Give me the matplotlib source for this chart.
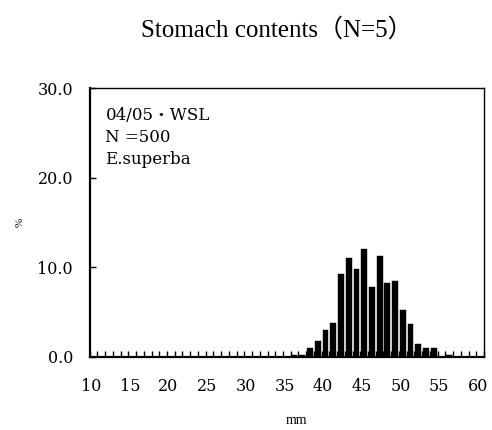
import matplotlib
matplotlib.use("Agg")
import matplotlib.pyplot as plt
import numpy as np

# Data
lengths_mm = list(range(10, 61))
values = {36: 0.2, 37: 0.2, 38: 1.0, 39: 1.8, 40: 3.0, 41: 3.8, 42: 9.2, 43: 11.0,
          44: 9.8, 45: 12.0, 46: 7.8, 47: 11.2, 48: 8.2, 49: 8.4, 50: 5.2, 51: 3.6,
          52: 1.4, 53: 1.0, 54: 1.0, 55: 0.0, 56: 0.2}
percent = [values.get(m, 0.0) for m in lengths_mm]
xtick_labels = [str(m) for m in range(10, 61, 5)]
ytick_values = [0, 10, 20, 30]
ytick_labels = ["0.0", "10.0", "20.0", "30.0"]
title = "Stomach contents（N=5）"
note_lines = ["04/05・WSL", "N =500", "E.superba"]

serif = ["Liberation Serif", "Noto Sans CJK JP", "DejaVu Serif"]
wide = ["DejaVu Serif", "Noto Sans CJK JP"]
plt.rcParams['font.family'] = serif

fig = plt.figure(figsize=(4.92, 4.30), dpi=100)
ax = fig.add_axes([0.1823, 0.1705, 0.8014, 0.6248])

x = np.arange(len(lengths_mm))
ax.bar(x, percent, width=0.75, color="black", edgecolor="black", linewidth=0.3)

ax.set_xlim(-0.5, len(lengths_mm) - 0.5)
ax.set_ylim(0, 30)

ax.set_xticks(np.arange(-0.5, len(lengths_mm), 1.0), minor=True)
ax.set_xticks(np.arange(0, len(lengths_mm), 5) - 0.3)
ax.set_xticklabels(xtick_labels, fontsize=11.5, family=wide)
ax.tick_params(axis="x", which="major", length=0, pad=15)
ax.tick_params(axis="x", which="minor", direction="in", length=4, width=1, color="black")

ax.set_yticks(ytick_values)
ax.set_yticklabels(ytick_labels, fontsize=11.5, family=wide)
ax.tick_params(axis="y", which="major", direction="in", length=4, width=1, pad=12)

for s in ax.spines.values():
    s.set_linewidth(1.0)
ax.spines["left"].set_linewidth(1.6)
ax.spines["bottom"].set_linewidth(1.6)

for i, line in enumerate(note_lines):
    ax.text(0.04, 0.93 - i * 0.083, line, transform=ax.transAxes, fontsize=12,
            va="top", ha="left", family=wide)

fig.text(0.5625, 0.93, title, ha="center", va="center", fontsize=18, family=serif)
fig.text(0.041, 0.484, "%", ha="center", va="center", fontsize=8, rotation=90, family=serif)
fig.text(0.602, 0.023, "mm", ha="center", va="center", fontsize=10, family=serif)

fig.savefig("out.png", dpi=100)
